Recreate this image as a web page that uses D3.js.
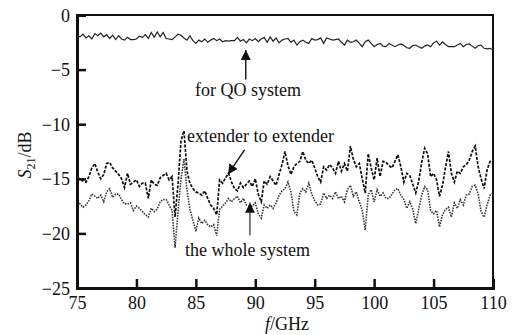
<!DOCTYPE html>
<html>
<head>
<meta charset="utf-8">
<script src="https://cdn.jsdelivr.net/npm/d3@7"></script>
<style>
  body { margin: 0; background: #fff; }
  text { font-family: "Liberation Serif", "Times New Roman", serif; fill: #111; }
</style>
</head>
<body>
<div id="chart"></div>
<script>
// frequency grid (GHz)
var freq = [
  75, 75.25, 75.5, 75.75, 76, 76.25, 76.5, 76.75, 77, 77.25, 77.5, 77.75,
  78, 78.25, 78.5, 78.75, 79, 79.25, 79.5, 79.75, 80, 80.25, 80.5, 80.75,
  81, 81.25, 81.5, 81.75, 82, 82.25, 82.5, 82.75, 83, 83.25, 83.5, 83.75,
  84, 84.25, 84.5, 84.75, 85, 85.25, 85.5, 85.75, 86, 86.25, 86.5, 86.75,
  87, 87.25, 87.5, 87.75, 88, 88.25, 88.5, 88.75, 89, 89.25, 89.5, 89.75,
  90, 90.25, 90.5, 90.75, 91, 91.25, 91.5, 91.75, 92, 92.25, 92.5, 92.75,
  93, 93.25, 93.5, 93.75, 94, 94.25, 94.5, 94.75, 95, 95.25, 95.5, 95.75,
  96, 96.25, 96.5, 96.75, 97, 97.25, 97.5, 97.75, 98, 98.25, 98.5, 98.75,
  99, 99.25, 99.5, 99.75, 100, 100.25, 100.5, 100.75, 101, 101.25, 101.5, 101.75,
  102, 102.25, 102.5, 102.75, 103, 103.25, 103.5, 103.75, 104, 104.25, 104.5, 104.75,
  105, 105.25, 105.5, 105.75, 106, 106.25, 106.5, 106.75, 107, 107.25, 107.5, 107.75,
  108, 108.25, 108.5, 108.75, 109, 109.25, 109.5, 109.75, 110
];

// S21 for QO system (solid)
var qoSystem = [
  -1.85, -2.0, -1.75, -2.1, -1.9, -2.2, -1.7, -1.9, -1.65, -2.0, -1.8, -2.15,
  -1.85, -2.25, -1.9, -2.2, -2.3, -2.05, -2.25, -2.25, -2.2, -1.95, -2.05, -1.8,
  -2.15, -1.6, -2.05, -1.55, -2.0, -1.6, -2.15, -2.2, -2.25, -2.0, -1.75, -1.85,
  -2.1, -2.3, -1.9, -2.35, -2.6, -2.3, -2.45, -2.2, -2.5, -2.3, -2.15, -2.35,
  -2.2, -2.45, -2.35, -2.4, -2.35, -2.35, -2.05, -2.4, -2.25, -2.55, -2.2, -2.35,
  -2.15, -2.45, -2.2, -2.05, -2.5, -2.0, -2.4, -2.1, -2.55, -2.3, -2.2, -2.15,
  -2.5, -2.3, -2.75, -2.45, -2.3, -2.5, -2.6, -2.15, -2.3, -2.25, -2.1, -2.6,
  -2.1, -2.2, -2.3, -2.25, -2.2, -2.5, -2.75, -2.3, -2.5, -2.45, -2.3, -2.6,
  -2.9, -2.45, -2.3, -2.6, -2.9, -2.7, -2.6, -2.85, -2.9, -2.6, -2.75, -2.9,
  -2.75, -2.65, -2.8, -3.0, -3.05, -2.8, -2.75, -2.9, -3.05, -2.85, -2.75, -2.9,
  -2.55, -2.4, -2.75, -2.45, -2.7, -2.9, -2.9, -2.9, -2.75, -2.6, -2.9, -2.7,
  -2.65, -2.85, -3.05, -2.8, -2.75, -3.05, -3.1, -3.05, -3.2
];

// S21 extender to extender (dashed)
var extToExt = [
  -14.9, -15.0, -15.2, -15.3, -14.8, -14.0, -13.6, -14.4, -15.0, -14.6, -13.6, -13.5,
  -14.0, -14.3, -14.6, -15.0, -15.8, -14.5, -15.5, -15.3, -15.1, -15.7, -15.4, -15.4,
  -16.8, -15.1, -15.5, -15.6, -14.9, -14.7, -14.5, -15.1, -14.8, -18.5, -15.5, -11.5,
  -10.6, -14.3, -15.4, -15.9, -16.2, -16.3, -16.5, -16.1, -16.8, -17.4, -17.7, -18.3,
  -15.1, -15.4, -14.9, -14.5, -15.3, -15.9, -16.1, -15.4, -15.8, -15.5, -15.2, -15.7,
  -15.0, -16.4, -17.1, -15.2, -15.5, -14.8, -15.2, -15.6, -14.6, -13.7, -12.5, -13.8,
  -14.6, -13.9, -13.6, -13.4, -12.5, -13.3, -13.6, -13.3, -14.0, -14.8, -15.3, -13.9,
  -14.2, -13.7, -14.0, -14.5, -13.4, -14.3, -13.6, -14.3, -12.0, -13.2, -13.9, -13.6,
  -15.0, -16.3, -12.7, -14.0, -15.1, -13.1, -14.8, -13.4, -13.5, -13.8, -14.0, -13.4,
  -12.8, -13.9, -15.3, -14.5, -14.7, -15.5, -16.3, -15.2, -13.5, -12.2, -12.7, -14.8,
  -14.5, -15.1, -16.6, -15.6, -14.0, -12.5, -14.5, -15.3, -14.3, -14.5, -13.9, -13.7,
  -13.3, -12.5, -12.0, -13.9, -15.0, -15.9, -14.2, -13.4, -13.3
];

// S21 the whole system (dotted)
var wholeSystem = [
  -17.1, -17.3, -17.6, -17.4, -17.0, -16.4, -16.6, -16.8, -16.5, -17.1, -16.2, -15.9,
  -16.7, -16.4, -16.4, -16.9, -17.3, -17.3, -17.2, -17.9, -17.5, -17.7, -18.0, -18.3,
  -18.5, -17.7, -18.0, -17.8, -17.1, -16.9, -16.9, -17.4, -17.9, -21.3, -18.0, -15.0,
  -13.2, -16.0, -17.8, -18.8, -19.8, -18.6, -19.1, -18.8, -19.2, -19.4, -19.2, -20.2,
  -17.8, -17.5, -17.2, -16.8, -17.1, -16.8, -16.6, -17.2, -16.8, -17.4, -17.5, -17.5,
  -17.2, -18.2, -18.6, -17.4, -17.7, -17.4, -17.7, -17.2, -16.5, -16.1, -15.9, -15.3,
  -16.2, -18.0, -18.3, -16.3, -15.9, -16.2, -15.4, -16.4, -17.0, -17.4, -17.3, -16.3,
  -16.8, -16.5, -16.8, -16.2, -16.8, -16.6, -17.1, -16.0, -15.6, -16.6, -16.2, -17.1,
  -17.9, -19.7, -16.5, -16.0, -17.1, -16.0, -16.6, -16.3, -16.8, -16.8, -16.4, -16.0,
  -15.9, -16.5, -16.9, -17.7, -17.1, -17.8, -19.1, -17.8, -16.5, -15.7, -16.0, -17.9,
  -18.2, -17.9, -19.4, -18.3, -17.8, -17.6, -18.5, -17.2, -17.7, -16.9, -17.4, -16.5,
  -16.4, -15.7, -15.6, -16.4, -18.0, -18.5, -17.4, -16.5, -16.3
];

var xTicks = [75, 80, 85, 90, 95, 100, 105, 110];
var yTicks = [0, -5, -10, -15, -20, -25];

var width = 522, height = 335;
var margin = {top: 15, right: 29, bottom: 47, left: 77};
var w = width - margin.left - margin.right;
var h = height - margin.top - margin.bottom;

var svg = d3.select("#chart").append("svg")
    .attr("width", width)
    .attr("height", height);

var g = svg.append("g")
    .attr("transform", "translate(" + margin.left + "," + margin.top + ")");

var x = d3.scaleLinear().domain([75, 110]).range([0, w]);
var y = d3.scaleLinear().domain([-25, 0]).range([h, 0]);

function series(vals) {
    return freq.map(function(f, i) { return {f: f, v: vals[i]}; });
}

var line = d3.line()
    .x(function(d) { return x(d.f); })
    .y(function(d) { return y(d.v); });

// curves
g.append("path")
    .datum(series(wholeSystem))
    .attr("d", line)
    .attr("fill", "none")
    .attr("stroke", "#333")
    .attr("stroke-width", 1.6)
    .attr("stroke-dasharray", "1.5,1.2");

g.append("path")
    .datum(series(extToExt))
    .attr("d", line)
    .attr("fill", "none")
    .attr("stroke", "#0d0d0d")
    .attr("stroke-width", 1.7)
    .attr("stroke-dasharray", "3,1.5");

g.append("path")
    .datum(series(qoSystem))
    .attr("d", line)
    .attr("fill", "none")
    .attr("stroke", "#222")
    .attr("stroke-width", 1.2);

// frame
g.append("rect")
    .attr("width", w)
    .attr("height", h)
    .attr("fill", "none")
    .attr("stroke", "#111")
    .attr("stroke-width", 2);

// axes, ticks pointing inward
var xAxis = g.append("g")
    .attr("transform", "translate(0," + h + ")")
    .call(d3.axisBottom(x).tickValues(xTicks).tickSize(-9).tickPadding(6).tickFormat(d3.format("d")));

var yAxis = g.append("g")
    .call(d3.axisLeft(y).tickValues(yTicks).tickSize(-9).tickPadding(7).tickFormat(d3.format("d")));

[xAxis, yAxis].forEach(function(a) {
    a.select(".domain").attr("stroke", "#111").attr("stroke-width", 3);
    a.selectAll(".tick line").attr("stroke", "#111").attr("stroke-width", 2.5);
    a.selectAll(".tick text")
        .style("font-family", "'Liberation Serif', 'Times New Roman', serif")
        .style("font-size", "18px")
        .attr("fill", "#111");
});
xAxis.selectAll(".tick text").attr("dy", "0.85em");
yAxis.selectAll(".tick text").attr("dy", "0.34em");

// axis labels
var xl = svg.append("text")
    .attr("x", margin.left + w / 2 + 2)
    .attr("y", 330)
    .attr("text-anchor", "middle")
    .style("font-size", "18px");
xl.append("tspan").style("font-style", "italic").text("f");
xl.append("tspan").text("/GHz");

var yl = svg.append("text")
    .attr("transform", "translate(31," + (margin.top + 140) + ") rotate(-90)")
    .attr("text-anchor", "middle")
    .style("font-size", "18px");
yl.append("tspan").style("font-style", "italic").text("S");
yl.append("tspan").attr("dy", 4).style("font-size", "12px").text("21");
yl.append("tspan").attr("dy", -4).text("/dB");

// annotations
svg.append("defs").append("marker")
    .attr("id", "head")
    .attr("viewBox", "0 0 10 10")
    .attr("refX", 10).attr("refY", 5)
    .attr("markerWidth", 10).attr("markerHeight", 10)
    .attr("markerUnits", "userSpaceOnUse")
    .attr("orient", "auto")
    .append("path")
    .attr("d", "M0,0 L10,5 L0,10 Z")
    .attr("fill", "#111");

var notes = [
    {text: "for QO system", tx: 195, ty: 96, from: [89.2, -5.9], to: [89.2, -3.2], color: "#111"},
    {text: "extender to extender", tx: 187, ty: 142, from: [89.1, -12.35], to: [87.7, -14.6], color: "#111"},
    {text: "the whole system", tx: 185, ty: 256, from: [89.55, -20.2], to: [89.55, -17.2], color: "#444"}
];

notes.forEach(function(n) {
    svg.append("text")
        .attr("x", n.tx)
        .attr("y", n.ty)
        .style("font-size", "18px")
        .text(n.text);
    g.append("line")
        .attr("x1", x(n.from[0])).attr("y1", y(n.from[1]))
        .attr("x2", x(n.to[0])).attr("y2", y(n.to[1]))
        .attr("stroke", n.color)
        .attr("stroke-width", 1.4)
        .attr("marker-end", "url(#head)");
});
</script>
</body>
</html>
